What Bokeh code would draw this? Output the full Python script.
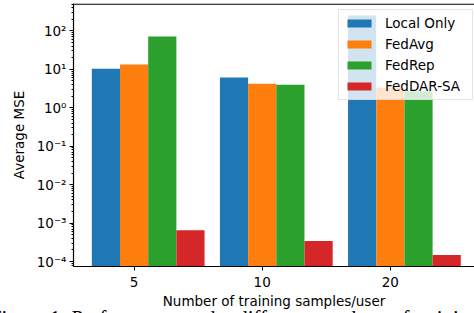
from bokeh.plotting import figure
from bokeh.models import (ColumnDataSource, FixedTicker, Legend, LegendItem, Span,
                          Range1d, LinearAxis)
from bokeh.transform import dodge
from bokeh.embed import file_html
from bokeh.resources import INLINE

# ---- data ----
groups = ["5", "10", "20"]
methods = ["Local Only", "FedAvg", "FedRep", "FedDAR-SA"]
colors = ["#1f77b4", "#ff7f0e", "#2ca02c", "#d62728"]
local_only = [10.4, 6.1, 250.0]
fedavg = [13.3, 4.2, 3.3]
fedrep = [71.0, 4.0, 2.7]
feddar_sa = [6.5e-4, 3.4e-4, 1.48e-4]
ytick_values = [1e-4, 1e-3, 1e-2, 1e-1, 1e0, 1e1, 1e2]
ytick_labels = ["10⁻⁴", "10⁻³", "10⁻²", "10⁻¹", "10⁰", "10¹", "10²"]
x_label = "Number of training samples/user"
y_label = "Average MSE"
caption = "Figure 1: Performance under different numbers of training samples."

bar_w = 0.22
FONT = "DejaVu Sans"
FS = "13.5px"

src = ColumnDataSource(dict(
    pos=list(range(len(groups))),
    s0=local_only, s1=fedavg, s2=fedrep, s3=feddar_sa,
))

y_lo, y_hi = 10 ** -4.13, 10 ** 2.713
p = figure(
    width=474, height=330,
    x_range=Range1d(-0.473, 2.657),
    y_range=Range1d(y_lo, y_hi),
    y_axis_type="log",
    output_backend="svg", toolbar_location=None,
    min_border_left=73, min_border_right=0, min_border_top=3, min_border_bottom=20,
    frame_height=263,
)
p.margin = (0, 0, -30, 0)
p.outline_line_color = None
p.background_fill_color = "white"
p.border_fill_color = "white"
p.xgrid.visible = False
p.ygrid.visible = False

xa = p.below[0]
ya = p.left[0]

items = []
for i, (name, col) in enumerate(zip(methods, colors)):
    r = p.vbar(x=dodge("pos", (i - 1) * bar_w), top=f"s{i}", bottom=1e-8,
               width=bar_w, source=src, fill_color=col, line_color=None)
    items.append(LegendItem(label=name, renderers=[r]))

# top spine, kept just inside the frame so it is not clipped
p.add_layout(Span(location=y_hi * 10 ** (-0.7 / 38.33), dimension="width",
                  line_color="black", line_width=1.2))

# axes
xa.ticker = FixedTicker(ticks=list(range(len(groups))), minor_ticks=[])
xa.major_label_overrides = {i: g for i, g in enumerate(groups)}
ya.ticker = FixedTicker(ticks=ytick_values,
                        minor_ticks=[m * 10.0 ** e for e in range(-5, 3) for m in range(2, 10)])
ya.major_label_overrides = {v: l for v, l in zip(ytick_values, ytick_labels)}

for ax in (xa, ya):
    ax.axis_line_color = "black"
    ax.axis_line_width = 1.2
    ax.major_tick_line_color = "black"
    ax.minor_tick_line_color = "black"
    ax.major_tick_in = 0
    ax.major_tick_out = 4
    ax.minor_tick_in = 0
    ax.minor_tick_out = 2
    ax.major_label_text_font = FONT
    ax.major_label_text_font_size = FS
    ax.major_label_text_color = "black"
    ax.axis_label_text_font = FONT
    ax.axis_label_text_font_size = FS
    ax.axis_label_text_font_style = "normal"
    ax.axis_label_text_color = "black"
xa.axis_label = x_label
ya.axis_label = y_label
xa.major_label_standoff = 6
xa.axis_label_standoff = 3
ya.major_label_standoff = 3
ya.axis_label_standoff = 7

# caption of the figure (only its upper part shows in the picture)
cap_axis = LinearAxis(ticker=FixedTicker(ticks=[], minor_ticks=[]), axis_line_color=None,
                      major_tick_out=0, minor_tick_out=0, major_tick_in=0, minor_tick_in=0,
                      major_label_text_font_size="0px", major_label_standoff=0,
                      axis_label=caption, axis_label_standoff=-6,
                      axis_label_text_font="Liberation Serif",
                      axis_label_text_font_size="21px",
                      axis_label_text_font_style="normal",
                      axis_label_text_color="black")
p.add_layout(cap_axis, "below")

legend = Legend(items=items, location=(265, 166), margin=0,
                glyph_width=30, glyph_height=10, label_standoff=11,
                label_height=16, label_width=82, spacing=5, padding=5,
                label_text_font=FONT, label_text_font_size=FS, label_text_color="black",
                border_line_color="#cccccc", border_line_width=1,
                background_fill_color="white", background_fill_alpha=0.8)
p.add_layout(legend)

open("out.html", "w").write(file_html(p, INLINE))
